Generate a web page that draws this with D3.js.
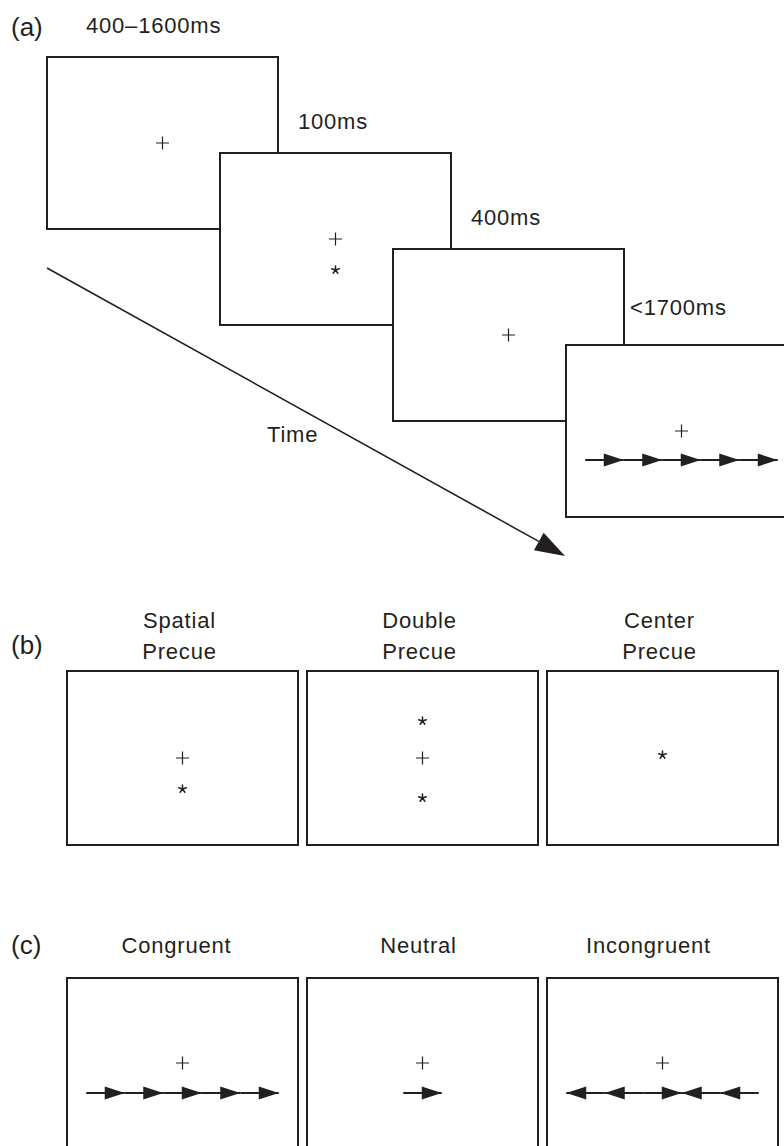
<!DOCTYPE html>
<html lang="en">
<head>
<meta charset="UTF-8">
<title>Attention network test</title>
<style>
  body { margin: 0; background: #fff; }
  svg text { font-family: "Liberation Sans", Arial, sans-serif; fill: #231f20; }
</style>
</head>
<body>
<svg id="fig" width="784" height="1146"></svg>
<script src="https://d3js.org/d3.v7.min.js"></script>
<script>
// panel (a): trial sequence
let durations = ['400–1600ms', '100ms', '400ms', '<1700ms']
let seqFrames = ['fixation', 'cue', 'fixation', 'target']
// panel (b): cue types
let cueNames = [['Spatial', 'Precue'], ['Double', 'Precue'], ['Center', 'Precue']]
let cueStars = [['below'], ['top', 'bottom'], ['centre']]
let cueCross = [true, true, false]
// panel (c): flanker types, 1 = points right, -1 = points left
let flankerNames = ['Congruent', 'Neutral', 'Incongruent']
let flankerDirs = [[1, 1, 1, 1, 1], [1], [-1, -1, 1, -1, -1]]
let panelLetters = ['(a)', '(b)', '(c)']

const svg = d3.select('#fig')
const ink = '#231f20'
svg.append('rect').attr('width', 784).attr('height', 1146).attr('fill', '#fff')

const boxW = 231, boxH = 172
const seqX = d3.scaleLinear().domain([0, 3]).range([47, 566])
const seqY = d3.scaleLinear().domain([0, 3]).range([57, 345])
const colX = d3.scaleLinear().domain([0, 2]).range([67, 547])
const starY = d3.scaleOrdinal().domain(['top', 'centre', 'below', 'bottom']).range([-37, -3, 31, 40])
const line = d3.line()

function label(g, x, y, txt, anchor) {
    return g.append('text').attr('x', x).attr('y', y).attr('text-anchor', anchor || 'start')
        .style('font-size', '22px').style('letter-spacing', '0.8px').text(txt)
}

function box(g, x, y, w, h) {
    g.append('rect').attr('x', x).attr('y', y).attr('width', w).attr('height', h)
        .attr('fill', '#fff').attr('stroke', ink).attr('stroke-width', 2)
}

function cross(g, cx, cy) {
    g.append('path').attr('d', `M${cx - 6.5},${cy}H${cx + 6.5}M${cx},${cy - 6.5}V${cy + 6.5}`)
        .attr('stroke', ink).attr('stroke-width', 1.2).attr('fill', 'none')
}

function star(g, cx, cy) {
    // small five spoke asterisk
    let r = 4, p = d3.path()
    for (let k = 0; k < 5; k++) {
        let a = -Math.PI / 2 + k * 2 * Math.PI / 5
        p.moveTo(cx, cy)
        p.lineTo(cx + r * Math.cos(a), cy + r * Math.sin(a))
    }
    g.append('path').attr('d', p.toString()).attr('stroke', ink)
        .attr('stroke-width', 1.5).attr('stroke-linecap', 'round')
}

function arrows(g, cx, cy, dirs) {
    let step = 38.5, head = 20, half = 6.5
    let x = d3.scaleLinear().domain([0, dirs.length])
        .range([cx - step * dirs.length / 2, cx + step * dirs.length / 2])
    dirs.forEach((d, k) => {
        let x0 = x(k), x1 = x(k + 1)
        g.append('line').attr('x1', x0).attr('x2', x1).attr('y1', cy).attr('y2', cy)
            .attr('stroke', ink).attr('stroke-width', 2)
        let tip = d > 0 ? x1 : x0, base = tip - d * head
        g.append('path').attr('d', line([[tip, cy], [base, cy - half], [base, cy + half]]) + 'Z')
            .attr('fill', ink)
    })
}

// panel letters
let letterY = [36, 654, 954]
panelLetters.forEach((t, i) => {
    svg.append('text').attr('x', 11).attr('y', letterY[i]).style('font-size', '26px').text(t)
})

// ---- (a) sequence of frames
let gA = svg.append('g')
seqFrames.forEach((f, i) => {
    let x = seqX(i), y = seqY(i)
    box(gA, x, y, boxW, boxH)
    let cx = x + boxW / 2, cy = y + boxH / 2
    cross(gA, cx, cy)
    if (f === 'cue') star(gA, cx, cy + starY('below'))
    if (f === 'target') arrows(gA, cx, cy + 29, flankerDirs[0])
})
durations.forEach((t, i) => {
    let x = i === 0 ? seqX(0) + 39 : seqX(i - 1) + boxW + (i < 3 ? 20 : 6)
    let y = seqY(i) - (i < 3 ? 24 : 30)
    label(gA, x, y, t)
})

// time arrow
let t0 = [47, 268], t1 = [565, 556]
let ang = Math.atan2(t1[1] - t0[1], t1[0] - t0[0])
let hl = 30, hw = 10
let hb = [t1[0] - hl * Math.cos(ang), t1[1] - hl * Math.sin(ang)]
gA.append('path').attr('d', line([t0, hb])).attr('stroke', ink).attr('stroke-width', 1.6).attr('fill', 'none')
gA.append('path').attr('d', line([
    t1,
    [hb[0] + hw * Math.sin(ang), hb[1] - hw * Math.cos(ang)],
    [hb[0] - hw * Math.sin(ang), hb[1] + hw * Math.cos(ang)]
]) + 'Z').attr('fill', ink)
label(gA, 267, 442, 'Time')

// ---- (b) cue conditions
let gB = svg.append('g')
let bTop = 671, bH = 174
cueNames.forEach((names, i) => {
    let x = colX(i), cx = x + boxW / 2, cy = bTop + bH / 2
    label(gB, cx - 3, 628, names[0], 'middle')
    label(gB, cx - 3, 659, names[1], 'middle')
    box(gB, x, bTop, boxW, bH)
    if (cueCross[i]) cross(gB, cx, cy)
    cueStars[i].forEach(s => star(gB, cx, cy + starY(s)))
})

// ---- (c) flanker conditions
let gC = svg.append('g')
let cTop = 978, cH = 174
let cShift = [-6, -4, -14]
flankerNames.forEach((name, i) => {
    let x = colX(i), cx = x + boxW / 2, cy = cTop + cH / 2
    label(gC, cx + cShift[i], 953, name, 'middle')
    box(gC, x, cTop, boxW, cH)
    cross(gC, cx, cy - 2)
    arrows(gC, cx, cy + 28, flankerDirs[i])
})
</script>
</body>
</html>
